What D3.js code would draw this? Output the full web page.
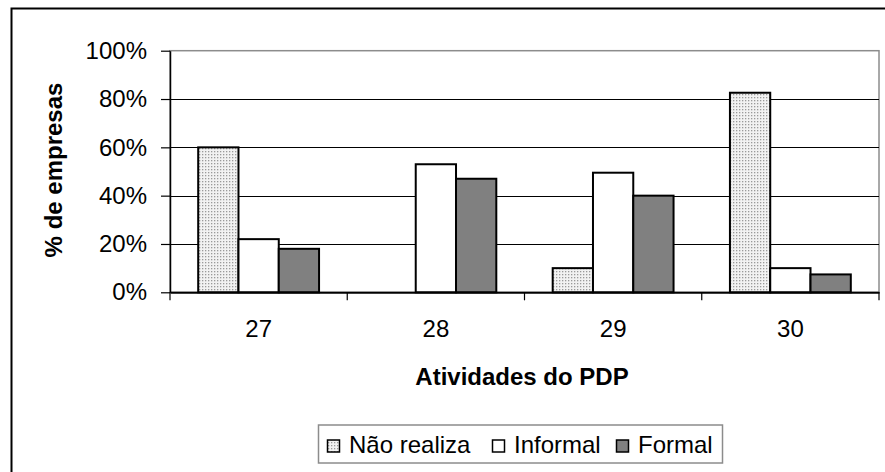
<!DOCTYPE html>
<html>
<head>
<meta charset="utf-8">
<script src="https://cdn.jsdelivr.net/npm/d3@7"></script>
<style>
  html, body { margin: 0; padding: 0; background: #fff; }
  svg { display: block; font-family: "Liberation Sans", Arial, sans-serif; }
</style>
</head>
<body>
<svg id="chart" width="885" height="472"></svg>
<script>
const categories = ["27", "28", "29", "30"];
const seriesNames = ["Não realiza", "Informal", "Formal"];
const naoRealiza = [60, 0, 10, 82.6];
const informal = [22, 53, 49.5, 10];
const formal = [18, 47, 40, 7.4];
const yTicks = [0, 20, 40, 60, 80, 100];
const yTitle = "% de empresas";
const xTitle = "Atividades do PDP";

const seriesValues = [naoRealiza, informal, formal];

const svg = d3.select("#chart");
const W = 885, H = 472;
const plot = { left: 170, right: 879, top: 50.7, bottom: 292.3 };

svg.append("rect").attr("width", W).attr("height", H).attr("fill", "#fff");

// pattern for "Não realiza"
const defs = svg.append("defs");
const pat = defs.append("pattern")
  .attr("id", "dots").attr("patternUnits", "userSpaceOnUse")
  .attr("width", 3).attr("height", 3);
pat.append("rect").attr("width", 3).attr("height", 3).attr("fill", "#f2f2f2");
pat.append("rect").attr("x", 1).attr("y", 1).attr("width", 1.3).attr("height", 1.3).attr("fill", "#9a9a9a");

const fills = ["url(#dots)", "#ffffff", "#808080"];

// outer chart border
svg.append("rect")
  .attr("x", 11.5).attr("y", 8.5).attr("width", W + 10).attr("height", H + 10)
  .attr("fill", "none").attr("stroke", "#000").attr("stroke-width", 2);

const x = d3.scaleBand().domain(categories).range([plot.left, plot.right]).paddingInner(0).paddingOuter(0);
const xs = d3.scaleBand().domain(seriesNames).range([0, x.bandwidth()]).paddingInner(0).paddingOuter(0.7);
const y = d3.scaleLinear().domain([0, 100]).range([plot.bottom, plot.top]);

// plot area border (gray)
svg.append("rect")
  .attr("x", plot.left).attr("y", plot.top)
  .attr("width", plot.right - plot.left).attr("height", plot.bottom - plot.top)
  .attr("fill", "none").attr("stroke", "#8c8c8c").attr("stroke-width", 1.5);

// gridlines
svg.append("g").selectAll("line").data(yTicks.filter(d => d > 0 && d < 100)).join("line")
  .attr("x1", plot.left).attr("x2", plot.right)
  .attr("y1", d => Math.round(y(d)) + 0.5).attr("y2", d => Math.round(y(d)) + 0.5)
  .attr("stroke", "#000").attr("stroke-width", 1);

// bars
const data = [];
categories.forEach((c, i) => {
  seriesNames.forEach((s, j) => {
    data.push({ cat: c, series: s, value: seriesValues[j][i], j });
  });
});

svg.append("g").selectAll("rect").data(data.filter(d => d.value > 0)).join("rect")
  .attr("x", d => x(d.cat) + xs(d.series))
  .attr("y", d => y(d.value))
  .attr("width", xs.bandwidth())
  .attr("height", d => y(0) - y(d.value))
  .attr("fill", d => fills[d.j])
  .attr("stroke", "#000").attr("stroke-width", 2);

// y axis
const yAxis = d3.axisLeft(y).tickValues(yTicks).tickFormat(d => d + "%").tickSize(9).tickSizeOuter(0);
const gy = svg.append("g").attr("transform", `translate(${plot.left},0)`).call(yAxis);
gy.select(".domain").attr("stroke", "#000").attr("stroke-width", 1.5);
gy.selectAll(".tick line").attr("stroke", "#000").attr("stroke-width", 1.2);
gy.selectAll(".tick text")
  .attr("x", -23).attr("dy", "0.32em")
  .attr("font-size", 24).attr("fill", "#000")
  .attr("font-family", "'Liberation Sans', Arial, sans-serif");

// x axis
const gx = svg.append("g").attr("transform", `translate(0,${plot.bottom})`)
  .call(d3.axisBottom(x).tickSize(0).tickSizeOuter(0));
gx.select(".domain").attr("stroke", "#000").attr("stroke-width", 2);
gx.selectAll(".tick text")
  .attr("y", 0).attr("dy", 0)
  .attr("transform", "translate(0,44.7)")
  .attr("font-size", 24).attr("fill", "#000")
  .attr("font-family", "'Liberation Sans', Arial, sans-serif");
// category boundary ticks
const bounds = categories.map(c => x(c)).concat([plot.right]);
svg.append("g").selectAll("line").data(bounds).join("line")
  .attr("x1", d => d).attr("x2", d => d)
  .attr("y1", plot.bottom).attr("y2", plot.bottom + 8)
  .attr("stroke", "#000").attr("stroke-width", 1.2);

// titles
svg.append("text")
  .attr("transform", `translate(62,170) rotate(-90)`)
  .attr("text-anchor", "middle").attr("font-size", 24).attr("font-weight", "bold")
  .text(yTitle);
svg.append("text")
  .attr("x", 522).attr("y", 385)
  .attr("text-anchor", "middle").attr("font-size", 24).attr("font-weight", "bold")
  .text(xTitle);

// legend
const legend = svg.append("g");
legend.append("rect")
  .attr("x", 318.5).attr("y", 425).attr("width", 404).attr("height", 38)
  .attr("fill", "#fff").attr("stroke", "#8c8c8c").attr("stroke-width", 1.5);
const legendX = [327, 492, 616];
seriesNames.forEach((s, j) => {
  const g = legend.append("g").attr("transform", `translate(${legendX[j]},0)`);
  g.append("rect").attr("x", 0.5).attr("y", 440).attr("width", 12).attr("height", 12)
    .attr("fill", fills[j]).attr("stroke", "#000").attr("stroke-width", 1.5);
  g.append("text").attr("x", 22).attr("y", 453.3).attr("font-size", 24).attr("fill", "#000").text(s);
});
</script>
</body>
</html>
